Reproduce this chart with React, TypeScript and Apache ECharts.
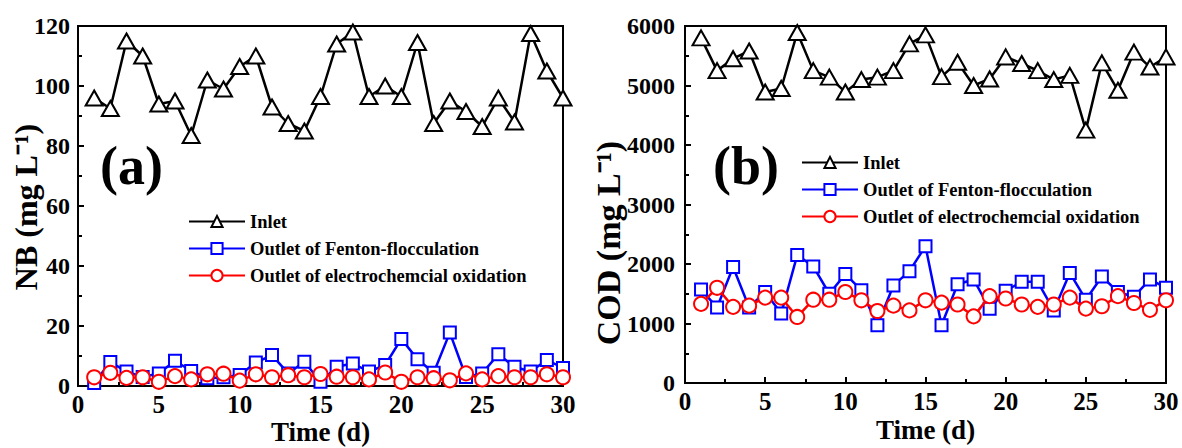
import React, { useEffect, useRef } from "react";
import * as echarts from "echarts";

const days = [1,2,3,4,5,6,7,8,9,10,11,12,13,14,15,16,17,18,19,20,21,22,23,24,25,26,27,28,29,30];
const seriesNames = ["Inlet", "Outlet of Fenton-flocculation", "Outlet of electrochemcial oxidation"];

const nbInlet = [96,92.5,115,110,94,95,83.5,102,99,106.5,110,93,87.5,85,96.5,114,118,96.5,100,96.5,114.5,87.5,95,91.5,86.5,96,88,117.5,105,96];
const nbFenton = [1,8,4.8,3,4.2,8.4,5,2.6,2.9,3.7,7.8,10.3,4.2,8.1,1.4,6.4,7.5,4.8,7,15.7,8.9,4.4,17.8,3,4.2,10.6,6.4,4.8,8.7,6];
const nbEO = [2.9,4.4,2.7,2.9,1.4,3.3,2.2,3.9,4.1,1.8,3.9,2.9,3.6,2.9,4,3.1,2.9,2.2,4.5,1.4,2.9,2.6,1.9,4.2,2.2,3.3,2.9,2.9,3.9,2.9];

const codInlet = [5800,5250,5450,5580,4890,4950,5890,5250,5140,4890,5100,5140,5250,5700,5850,5150,5390,5000,5110,5480,5370,5250,5100,5170,4250,5380,4920,5560,5310,5480];
const codFenton = [1570,1270,1950,1270,1530,1170,2150,1960,1500,1830,1560,970,1640,1880,2300,970,1660,1740,1250,1550,1700,1700,1220,1850,1400,1790,1530,1450,1740,1600];
const codEO = [1330,1600,1280,1300,1435,1435,1110,1400,1400,1530,1390,1210,1300,1220,1390,1350,1320,1120,1460,1420,1320,1280,1320,1435,1250,1290,1460,1345,1230,1390];

const FONT = "Liberation Serif";

const pairs = (vals: number[]) => days.map((d, i) => [d, vals[i]]);

export default function App() {
  const ref = useRef<HTMLDivElement>(null);
  useEffect(() => {
    if (!ref.current) return;
    const chart = echarts.init(ref.current, undefined, { renderer: "svg" });
    const labelStyle = { color: "#000", fontFamily: FONT, fontWeight: "bold" as const };
    const xAxisBase = (gridIndex: number, gap: number) => ({
      type: "value" as const,
      gridIndex,
      min: 0,
      max: 30,
      interval: 5,
      name: "Time (d)",
      nameLocation: "middle" as const,
      nameGap: gap,
      nameMoveOverlap: false,
      nameTextStyle: { ...labelStyle, fontSize: 27 },
      axisLine: { show: true, onZero: false, lineStyle: { color: "#000", width: 2 } },
      axisTick: { show: true, inside: true, length: 6, lineStyle: { color: "#000", width: 2 } },
      minorTick: { show: true, splitNumber: 2, length: 4, lineStyle: { color: "#000", width: 2 } },
      axisLabel: { ...labelStyle, fontSize: 25, margin: 6 },
      splitLine: { show: false },
    });
    const yAxisBase = (gridIndex: number, max: number, interval: number, margin: number) => ({
      type: "value" as const,
      gridIndex,
      min: 0,
      max,
      interval,
      axisLine: { show: true, onZero: false, lineStyle: { color: "#000", width: 2 } },
      axisTick: { show: true, inside: true, length: 6, lineStyle: { color: "#000", width: 2 } },
      minorTick: { show: true, splitNumber: 2, length: 4, lineStyle: { color: "#000", width: 2 } },
      axisLabel: { ...labelStyle, fontSize: 24, margin, formatter: (v: number) => String(v) },
      splitLine: { show: false },
    });
    const mk = (name: string, vals: number[], idx: number, color: string, symbol: string, size: any) => ({
      type: "line" as const,
      name,
      xAxisIndex: idx,
      yAxisIndex: idx,
      data: pairs(vals),
      symbol,
      symbolSize: size,
      showAllSymbol: true,
      lineStyle: { color, width: 2.5 },
      itemStyle: { color: "#fff", borderColor: color, borderWidth: 2 },
      z: symbol === "triangle" ? 3 : symbol === "rect" ? 4 : 5,
    });
    const legendBase = {
      orient: "vertical" as const,
      itemWidth: 56,
      itemHeight: 14,
      itemGap: 8,
      data: seriesNames,
      textStyle: { color: "#000", fontFamily: FONT, fontWeight: "bold" as const, fontSize: 18.5 },
    };
    chart.setOption({
      animation: false,
      backgroundColor: "#fff",
      textStyle: { fontFamily: FONT },
      grid: [
        { left: 78, top: 26, width: 485, height: 360, show: true, borderColor: "#000", borderWidth: 2, outerBoundsMode: "none", containLabel: false },
        { left: 685, top: 26, width: 481, height: 357, show: true, borderColor: "#000", borderWidth: 2, outerBoundsMode: "none", containLabel: false },
      ],
      xAxis: [xAxisBase(0, 32), xAxisBase(1, 33)],
      yAxis: [yAxisBase(0, 120, 20, 8), yAxisBase(1, 6000, 1000, 10)],
      legend: [
        { ...legendBase, left: 183, top: 207 },
        { ...legendBase, left: 796, top: 148 },
      ],
      graphic: [
        { type: "text", x: 100, y: 166, style: { text: "(a)", fill: "#000", font: `bold 54px ${FONT}`, textVerticalAlign: "middle" } },
        { type: "text", x: 713, y: 166, style: { text: "(b)", fill: "#000", font: `bold 54px ${FONT}`, textVerticalAlign: "middle" } },
        { type: "text", x: 26, y: 207, rotation: Math.PI / 2, style: { text: "NB (mg L⁻¹)", fill: "#000", font: `bold 32px ${FONT}`, textAlign: "center", textVerticalAlign: "middle" } },
        { type: "text", x: 608, y: 243, rotation: Math.PI / 2, style: { text: "COD (mg L⁻¹)", fill: "#000", font: `bold 34px ${FONT}`, textAlign: "center", textVerticalAlign: "middle" } },
      ],
      series: [
        mk(seriesNames[0], nbInlet, 0, "#000", "triangle", [17, 15]),
        mk(seriesNames[1], nbFenton, 0, "#0000ff", "rect", 12),
        mk(seriesNames[2], nbEO, 0, "#ff0000", "circle", 14),
        mk(seriesNames[0], codInlet, 1, "#000", "triangle", [17, 15]),
        mk(seriesNames[1], codFenton, 1, "#0000ff", "rect", 12),
        mk(seriesNames[2], codEO, 1, "#ff0000", "circle", 14),
      ],
    });
    return () => chart.dispose();
  }, []);
  return <div ref={ref} style={{ position: "fixed", left: 0, top: 0, width: 1182, height: 448 }} />;
}
